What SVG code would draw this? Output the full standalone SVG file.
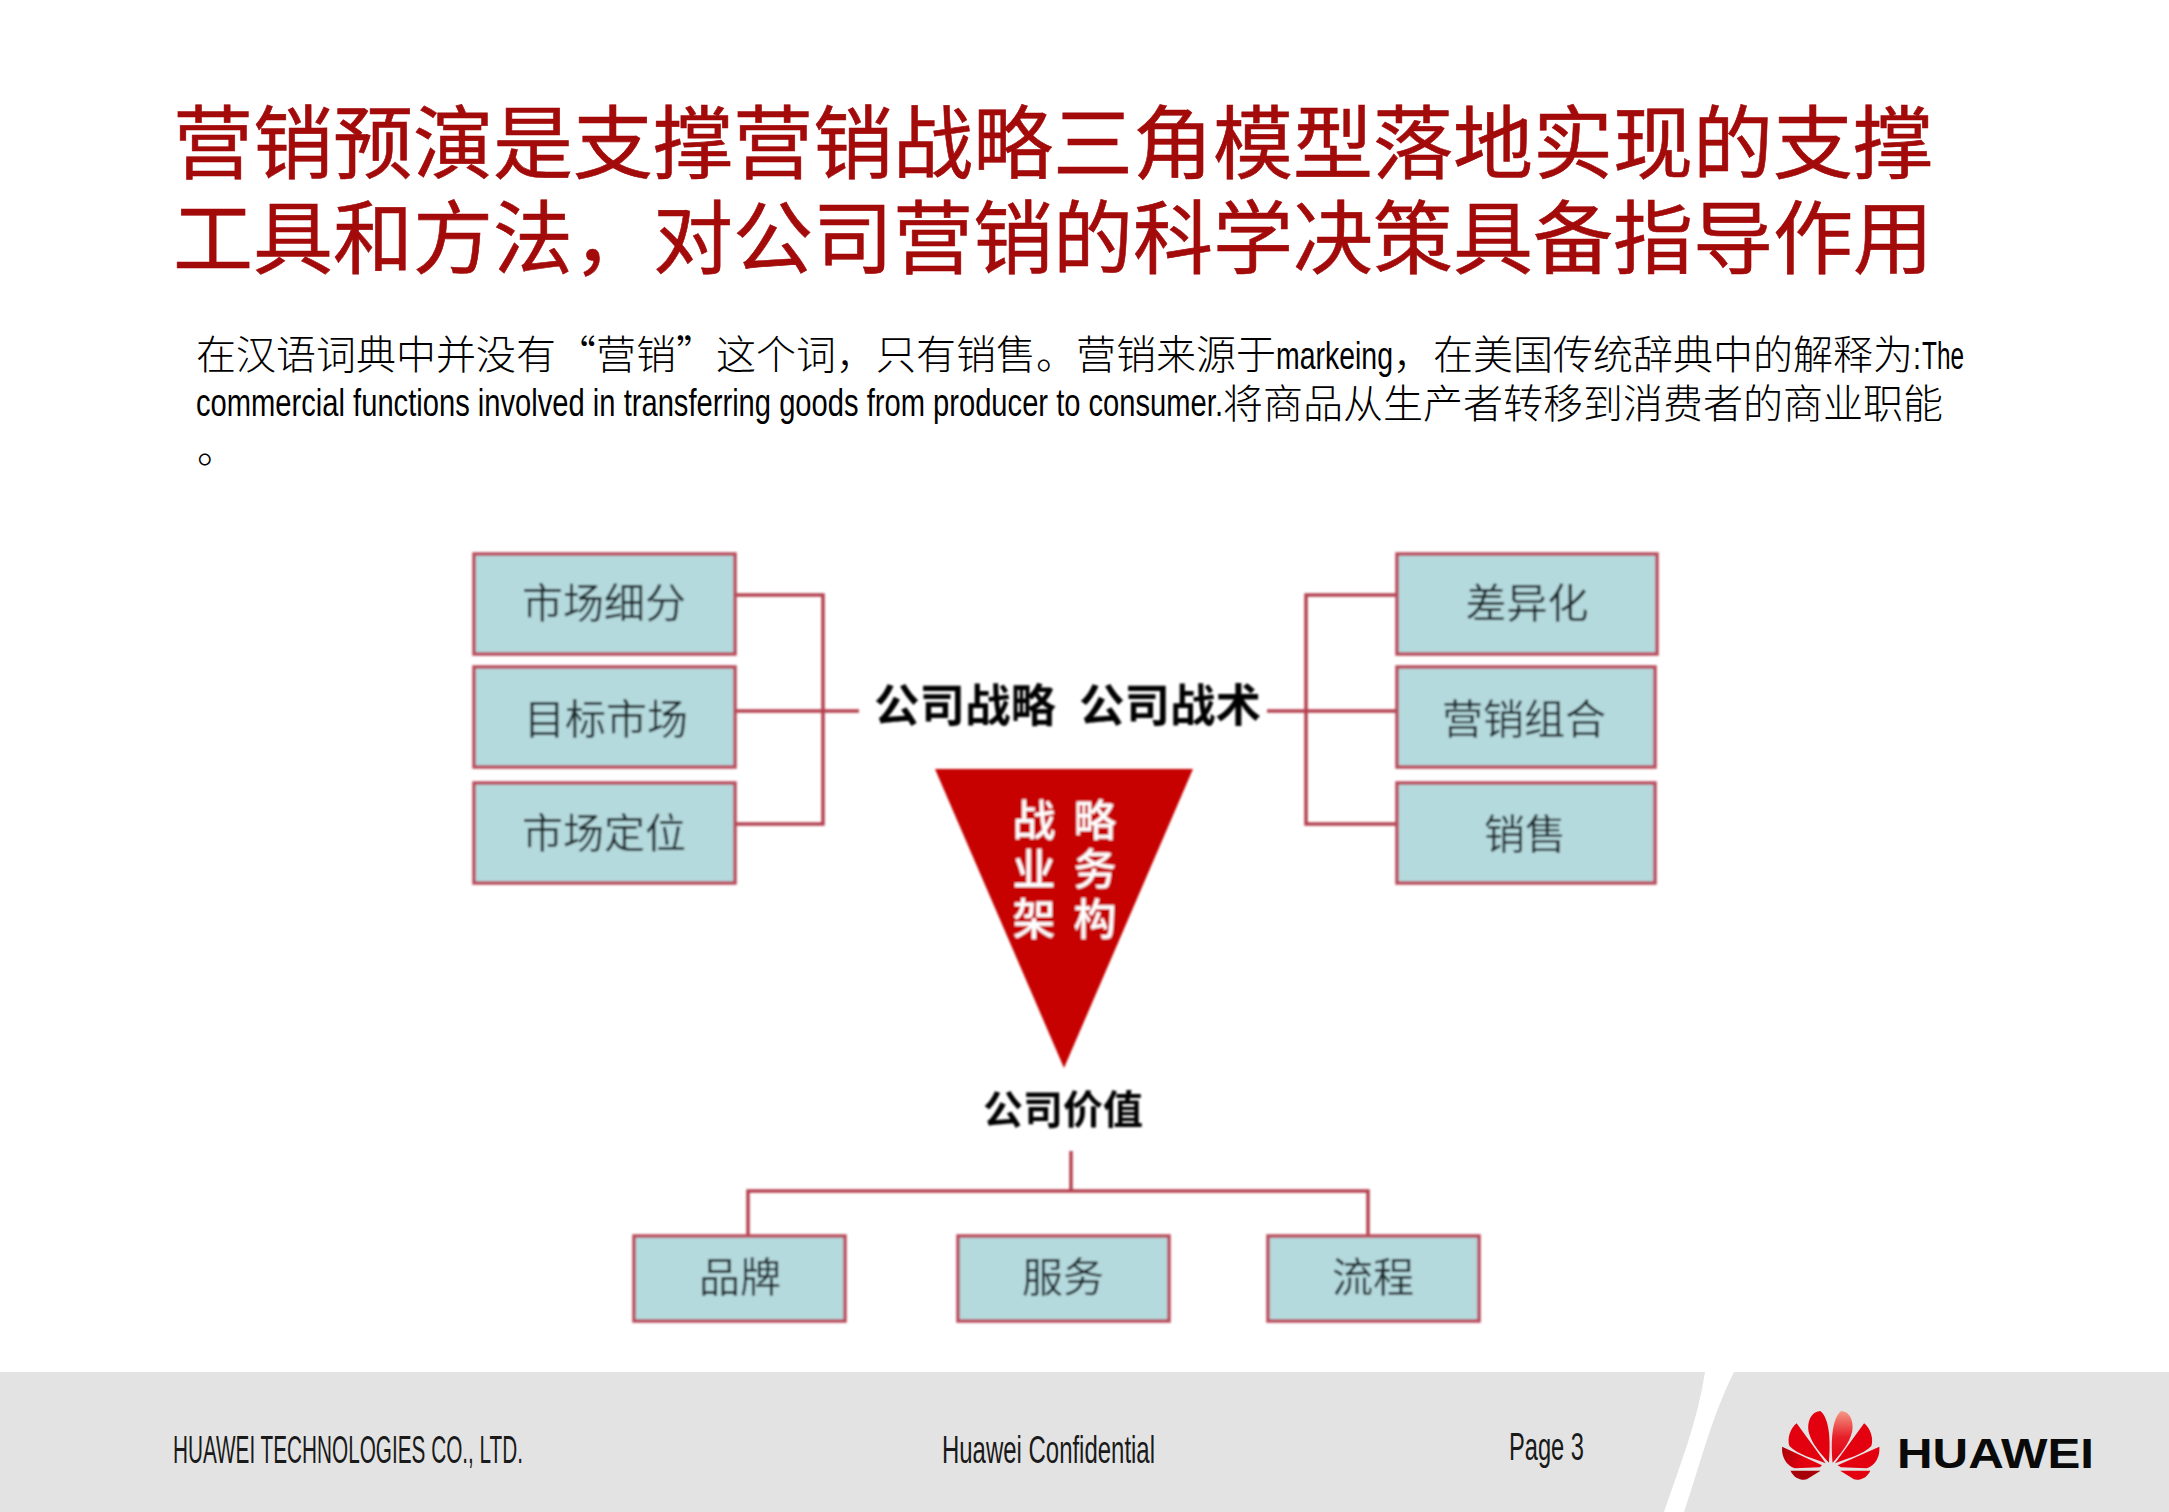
<svg xmlns="http://www.w3.org/2000/svg" width="2169" height="1512" viewBox="0 0 2169 1512">
<style>
text{font-family:"Noto Sans CJK SC","Liberation Sans",sans-serif}
.t{font-size:80px;fill:#a30a0a;stroke:#a30a0a;stroke-width:.6}
.b{font-size:40px;fill:#000;font-weight:300}
.l{font-family:"Liberation Sans","Noto Sans CJK SC",sans-serif;font-size:39px;fill:#000}
.f{font-family:"Liberation Sans",sans-serif;font-size:38px;fill:#1a1a1a}
.box{fill:#b5dade;stroke:#b94c5c;stroke-width:3.5}
.c{fill:none;stroke:#b5404f;stroke-width:3.5}
.n{font-size:41px;fill:#1f2c2e;text-anchor:middle}
.h{font-size:45.5px;fill:#000;font-weight:700;text-anchor:middle}
.w{font-size:43px;fill:#fff;font-weight:500;text-anchor:middle}
</style>
<defs>
<filter id="soft" x="-5%" y="-5%" width="110%" height="110%"><feGaussianBlur stdDeviation="0.9"/></filter>
<linearGradient id="p1" x1="0" y1="0" x2="0" y2="1"><stop offset="0" stop-color="#f59a85"/><stop offset=".5" stop-color="#e6202a"/><stop offset="1" stop-color="#e3000f"/></linearGradient>
<linearGradient id="p2" x1="0" y1="0" x2="1" y2="0.3"><stop offset="0" stop-color="#a80008"/><stop offset=".7" stop-color="#e3000f"/></linearGradient>
</defs>
<g id="title">
<text class="t" x="173" y="172">营销预演是支撑营销战略三角模型落地实现的支撑</text>
<text class="t" x="173" y="267">工具和方法，对公司营销的科学决策具备指导作用</text>
</g>
<g id="body">
<text class="b" x="196" y="369">在汉语词典中并没有“营销”这个词，只有销售。营销来源于</text>
<text class="l" x="1276" y="369" textLength="117" lengthAdjust="spacingAndGlyphs">markeing</text>
<text class="b" x="1393" y="369">，在美国传统辞典中的解释为</text>
<text class="l" x="1913" y="369" textLength="8" lengthAdjust="spacingAndGlyphs">:</text>
<text class="l" x="1922" y="369" textLength="42" lengthAdjust="spacingAndGlyphs">The</text>
<text class="l" x="196" y="416" textLength="1027" lengthAdjust="spacingAndGlyphs">commercial functions involved in transferring goods from producer to consumer.</text>
<text class="b" x="1223" y="418">将商品从生产者转移到消费者的商业职能</text>
<text class="b" x="197" y="463">。</text>
</g>
<g id="diagram" filter="url(#soft)">
<g id="connectors">
<path class="c" d="M735 595H823V824H735M735 711H859"/>
<path class="c" d="M1396 595H1306V824H1396M1396 711H1267"/>
<path class="c" d="M1071 1151V1191M748 1235V1191H1368V1235"/>
</g>
<g id="n-segment"><rect class="box" x="474" y="554" width="261" height="100"/><text class="n" x="604" y="618">市场细分</text></g>
<g id="n-target"><rect class="box" x="474" y="667" width="261" height="100"/><text class="n" x="606" y="734">目标市场</text></g>
<g id="n-position"><rect class="box" x="474" y="783" width="261" height="100"/><text class="n" x="604" y="848">市场定位</text></g>
<g id="n-diff"><rect class="box" x="1397" y="554" width="260" height="100"/><text class="n" x="1527" y="618">差异化</text></g>
<g id="n-mix"><rect class="box" x="1397" y="667" width="258" height="100"/><text class="n" x="1524" y="734">营销组合</text></g>
<g id="n-sales"><rect class="box" x="1397" y="783" width="258" height="100"/><text class="n" x="1525" y="849">销售</text></g>
<g id="n-brand"><rect class="box" x="634" y="1236" width="211" height="85"/><text class="n" x="740" y="1292">品牌</text></g>
<g id="n-service"><rect class="box" x="958" y="1236" width="211" height="85"/><text class="n" x="1063" y="1292">服务</text></g>
<g id="n-process"><rect class="box" x="1268" y="1236" width="211" height="85"/><text class="n" x="1373" y="1292">流程</text></g>
<g id="n-strategy"><text class="h" x="965" y="722">公司战略</text></g>
<g id="n-tactics"><text class="h" x="1170" y="722">公司战术</text></g>
<g id="n-arch"><polygon points="935,769 1193,769 1064,1068" fill="#c70000"/>
<text class="w" x="1034" y="836">战</text><text class="w" x="1095" y="836">略</text>
<text class="w" x="1034" y="885">业</text><text class="w" x="1095" y="885">务</text>
<text class="w" x="1034" y="935">架</text><text class="w" x="1095" y="935">构</text></g>
<g id="n-value"><text class="h" style="font-size:40px" x="1063" y="1124">公司价值</text></g>
</g>
<g id="footer">
<rect x="0" y="1372" width="2169" height="140" fill="#e3e3e3"/>
<path d="M1705 1372H1734C1712 1415 1700 1465 1684 1512H1664C1680 1465 1698 1420 1705 1372Z" fill="#fff"/>
<text class="f" x="173" y="1463" textLength="350" lengthAdjust="spacingAndGlyphs">HUAWEI TECHNOLOGIES CO., LTD.</text>
<text class="f" x="942" y="1463" textLength="213" lengthAdjust="spacingAndGlyphs">Huawei Confidential</text>
<text class="f" x="1509" y="1460" textLength="75" lengthAdjust="spacingAndGlyphs">Page 3</text>
</g>
<g id="logo" transform="translate(1600 1360) scale(.3628 .3333)">
<path fill="url(#p1)" d="M641 308C636 250 638 175 665 153C690 155 700 185 695 215C688 250 660 285 641 308Z"/>
<path fill="#e3000f" d="M631 308C636 250 634 175 607 153C582 155 570 185 575 215C582 250 612 285 631 308Z"/>
<path fill="#e3000f" d="M648 310L728 190C745 205 755 235 748 258C725 285 680 295 648 310Z"/>
<path fill="#e3000f" d="M622 310L542 190C525 205 515 235 522 258C545 285 590 295 622 310Z"/>
<path fill="#e3000f" d="M655 316L770 260C772 290 760 315 735 325L664 322Z"/>
<path fill="url(#p2)" d="M612 316L502 260C500 290 512 315 537 325L606 322Z"/>
<path fill="#e3000f" d="M662 332H745C735 355 715 362 700 358Z"/>
<path fill="#a80008" d="M608 332H525C535 355 555 362 570 358Z"/>
</g>
<text id="brand" x="1897" y="1468" textLength="197" lengthAdjust="spacingAndGlyphs" style="font-family:'Liberation Sans',sans-serif;font-size:43px;font-weight:700;fill:#0a0a0a">HUAWEI</text>
</svg>
